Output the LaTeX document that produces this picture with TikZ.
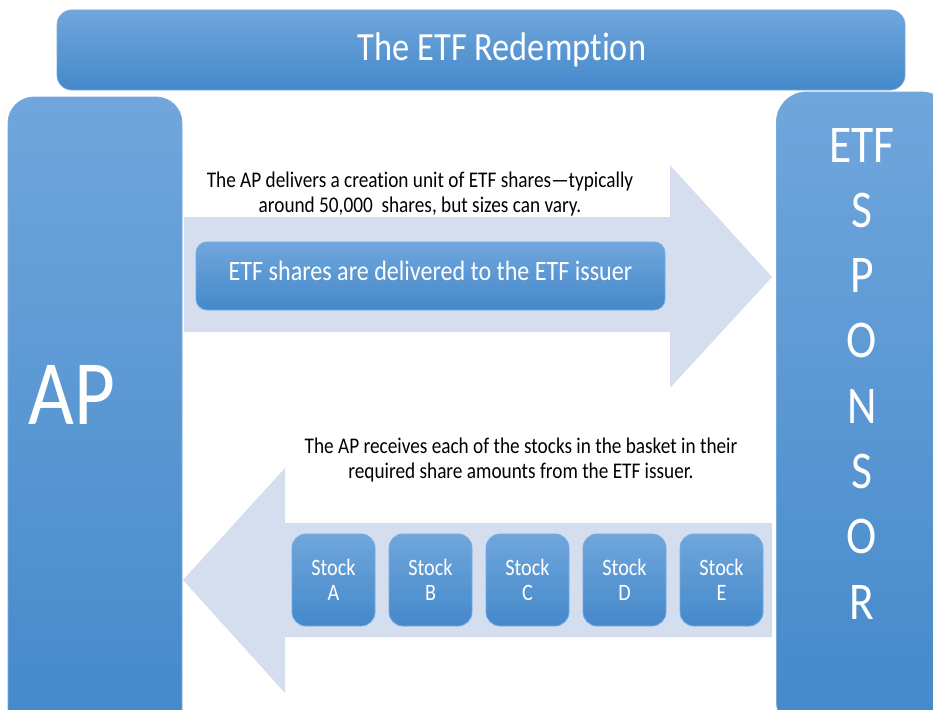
\documentclass[tikz,border=0pt]{standalone}
\usepackage{fontspec}
\setmainfont{Carlito}[FakeStretch=0.86, RawFeature=-liga]
\usetikzlibrary{positioning}
\definecolor{boxtop}{RGB}{112,166,220}
\definecolor{boxbot}{RGB}{68,137,202}
\definecolor{boxline}{RGB}{120,170,222}
\definecolor{arrowfill}{RGB}{212,222,239}
\tikzset{
  bluebox/.style={rectangle, rounded corners=#1, top color=boxtop, bottom color=boxbot,
    draw=boxline, line width=0.8pt, text=white, inner sep=0pt},
  stockbox/.style={bluebox=14pt, minimum width=83pt, minimum height=92pt, align=center,
    font=\fontsize{23.5}{25}\selectfont},
  whitetext/.style={text=white, inner sep=0pt},
  note/.style={align=center, text=black, inner sep=0pt, font=\fontsize{22.4}{25}\selectfont},
  bigarrow/.style={fill=arrowfill}
}

\begin{document}
\begin{tikzpicture}[x=1pt,y=-1pt]
\clip (0,0) rectangle (933,709);

% the two wide arrows
\fill[bigarrow] (184,217) -- (670,217) -- (670,165) -- (772,277)
  -- (670,388) -- (670,332) -- (184,332) -- cycle;
\fill[bigarrow] (772,523) -- (285,523) -- (285,468) -- (183,580)
  -- (285,693) -- (285,637) -- (772,637) -- cycle;

% header, AP and sponsor
\node[bluebox=15pt, minimum width=848pt, minimum height=80pt] (title) at (481,50) {};
\node[whitetext, font=\fontsize{40}{40}\selectfont] (titletext) at (502,50) {The ETF Redemption};
\node[bluebox=26pt, minimum width=174pt, minimum height=640pt] (ap) at (95,417) {};
\node[whitetext, font=\fontsize{92}{92}\selectfont] (aplabel) at (72,395) {AP};
\node[bluebox=30pt, minimum width=175pt, minimum height=640pt] (sponsor) at (864,412) {};
\foreach \l [count=\i from 0] in {ETF,S,P,O,N,S,O,R}
  \node[whitetext, anchor=base, font=\fontsize{53}{53}\selectfont]
    (letter\i) at (862,162+65.3*\i) {\l};

% delivery of the shares
\node[note] (deliver) at (420,194)
  {The AP delivers a creation unit of ETF shares\textemdash typically\\
   around 50,000 \ shares, but sizes can vary.};
\node[bluebox=11pt, minimum width=469pt, minimum height=68pt] (shares) at (430.5,276) {};
\node[whitetext, font=\fontsize{28}{28}\selectfont] (sharestext) at (430.5,271)
  {ETF shares are delivered to the ETF issuer};

% basket coming back
\node[note] (receive) at (521,460)
  {The AP receives each of the stocks in the basket in their\\
   required share amounts from the ETF issuer.};
\foreach \s [count=\i from 0] in {A,B,C,D,E}
  \node[stockbox] (stock\s) at (333.5+97*\i,580) {Stock\\\s};
\end{tikzpicture}
\end{document}
